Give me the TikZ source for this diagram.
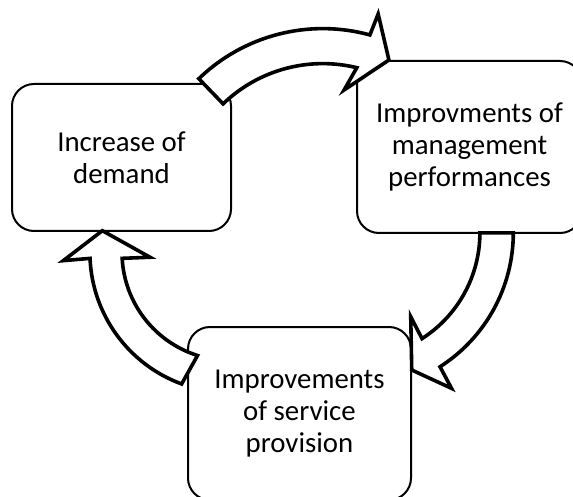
\documentclass[tikz,border=0pt]{standalone}
\usepackage{fontspec}
\setmainfont{Carlito}
\usetikzlibrary{calc}
\begin{document}
\begin{tikzpicture}[x=1pt,y=-1pt,
  box/.style={draw, line width=2pt, rounded corners=22pt, align=center,
    font=\fontsize{28.8}{32}\selectfont, inner sep=0pt},
  blockarrow/.style={draw, fill=white, line width=3.6pt, line join=miter}]
\useasboundingbox (0,0) rectangle (573,497);
\clip (0,0) rectangle (573,497);

% the three stages of the cycle
\node[box, minimum width=219pt, minimum height=147pt] (demand) at (121.5,157.5)
  {Increase of\\demand};
\node[box, minimum width=225pt, minimum height=172pt] (management) at (469.5,147)
  {Improvments of\\management\\performances};
\node[box, minimum width=223pt, minimum height=173pt] (service) at (299.5,413.5)
  {Improvements\\of service\\provision};

% curved block arrows: band between two concentric arcs, barbed head
\coordinate (c1) at (322.8,207.1);
\draw[blockarrow] ($(c1)+(226:178.5)$) arc[start angle=226, end angle=285.3, radius=178.5]
  -- ($(c1)+(286:200.9)$) -- ($(c1)+(294.2:161.3)$) -- ($(c1)+(280.3:119)$)
  -- ($(c1)+(283.7:143.5)$) arc[start angle=283.7, end angle=226, radius=143.5] -- cycle;

\coordinate (c2) at (354.4,232.9);
\draw[blockarrow] ($(c2)+(0:158.9)$) arc[start angle=0, end angle=57.4, radius=158.9]
  -- ($(c2)+(58:183.3)$) -- ($(c2)+(67.3:148.6)$) -- ($(c2)+(56.1:101)$)
  -- ($(c2)+(57.4:125.5)$) arc[start angle=57.4, end angle=0, radius=125.5] -- cycle;

\coordinate (c3) at (230,252.5);
\draw[blockarrow] ($(c3)+(110.2:140.1)$) arc[start angle=110.2, end angle=177.6, radius=140.1]
  -- ($(c3)+(177.2:166.9)$) -- ($(c3)+(189.7:129.5)$) -- ($(c3)+(176.6:80.1)$)
  -- ($(c3)+(176.9:108)$) arc[start angle=176.9, end angle=107.5, radius=108] -- cycle;
\end{tikzpicture}
\end{document}
